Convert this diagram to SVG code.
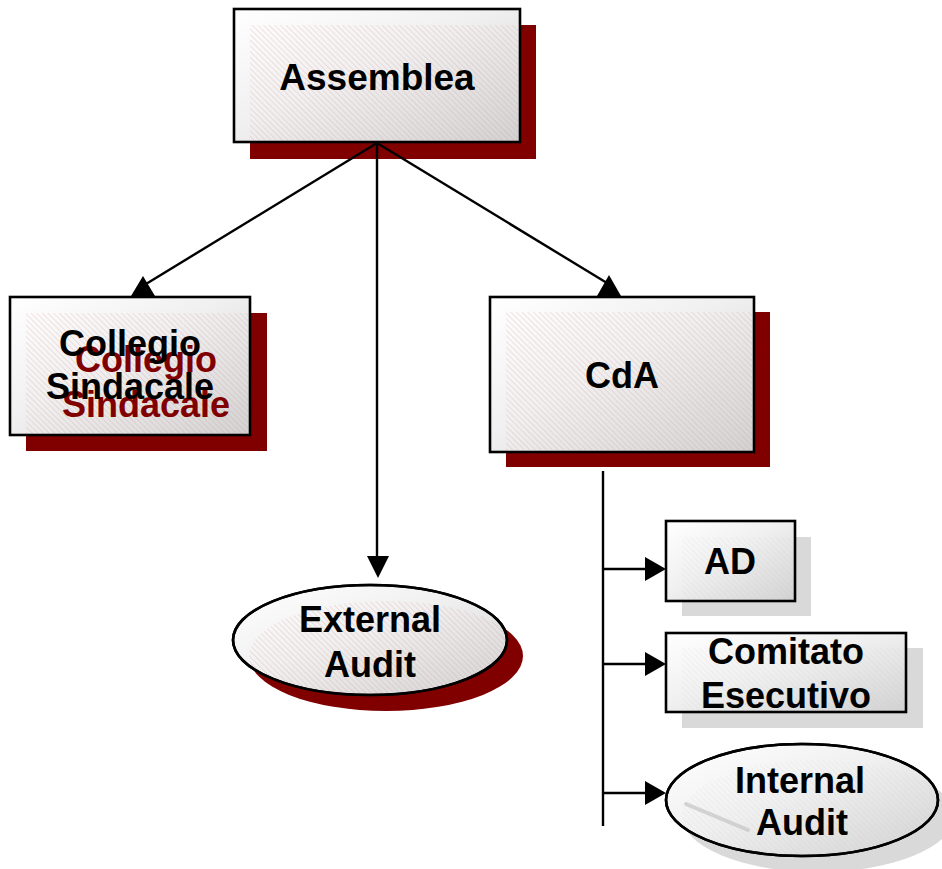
<svg xmlns="http://www.w3.org/2000/svg" width="942" height="869" viewBox="0 0 942 869">
  <style>
    .box { stroke: #000; stroke-width: 2.6; fill: url(#shade); }
    .shadow-red { fill: #800000; }
    .shadow-gray { fill: #d9d9d9; }
    .hatch-red { fill: url(#hatchRed); }
    .hatch-gray { fill: url(#hatchGray); }
    .outline { fill: none; stroke: #000; stroke-width: 2.6; }
    .shine { stroke: #c4c4c4; stroke-width: 4; stroke-opacity: 0.7; stroke-linecap: round; }
    .label { font-family: "Liberation Sans", Arial, sans-serif; font-weight: bold; font-size: 36px; text-anchor: middle; fill: #000; }
    .label-red { fill: #800000; }
    .wire { stroke: #000; stroke-width: 2.4; fill: none; }
    .head { fill: #000; }
  </style>
  <defs>
    <linearGradient id="shade" x1="0" y1="0" x2="1" y2="1">
      <stop offset="0" stop-color="#ffffff"/>
      <stop offset="0.45" stop-color="#f0f0f0"/>
      <stop offset="1" stop-color="#d2d2d2"/>
    </linearGradient>
    <pattern id="hatchRed" width="4" height="4" patternUnits="userSpaceOnUse" patternTransform="rotate(-45)">
      <line x1="0" y1="0" x2="0" y2="4" stroke="#d98c8c" stroke-width="0.8" stroke-opacity="0.6"/>
    </pattern>
    <pattern id="hatchGray" width="4" height="4" patternUnits="userSpaceOnUse" patternTransform="rotate(-45)">
      <line x1="0" y1="0" x2="0" y2="4" stroke="#b8b8b8" stroke-width="0.8" stroke-opacity="0.35"/>
    </pattern>
    <clipPath id="clipExt"><ellipse cx="370" cy="640" rx="137" ry="55"/></clipPath>
    <clipPath id="clipInt"><ellipse cx="802" cy="800" rx="136" ry="56"/></clipPath>
  </defs>

  <!-- Assemblea -->
  <g id="assemblea">
    <rect class="shadow-red" x="250" y="25" width="286" height="134"/>
    <rect class="box" x="234" y="9" width="286" height="133"/>
    <rect class="hatch-red" x="250" y="25" width="269" height="116"/>
    <text class="label" x="377" y="90" style="font-size:37px">Assemblea</text>
  </g>

  <!-- Collegio Sindacale -->
  <g id="collegio-sindacale">
    <rect class="shadow-red" x="26" y="313" width="241" height="138"/>
    <rect class="box" x="10" y="297" width="240" height="138"/>
    <rect class="hatch-red" x="26" y="313" width="223" height="121"/>
    <text class="label label-red" x="146" y="372">Collegio</text>
    <text class="label label-red" x="146" y="417">Sindacale</text>
    <text class="label" x="130" y="356">Collegio</text>
    <text class="label" x="130" y="399">Sindacale</text>
  </g>

  <!-- CdA -->
  <g id="cda">
    <rect class="shadow-red" x="506" y="312" width="264" height="155"/>
    <rect class="box" x="490" y="297" width="264" height="155"/>
    <rect class="hatch-red" x="506" y="312" width="247" height="139"/>
    <text class="label" x="622" y="388">CdA</text>
  </g>

  <!-- External Audit -->
  <g id="external-audit">
    <ellipse class="shadow-red" cx="386" cy="656" rx="137" ry="55"/>
    <ellipse class="box" cx="370" cy="640" rx="137" ry="55"/>
    <ellipse class="hatch-red" cx="386" cy="656" rx="137" ry="55" clip-path="url(#clipExt)"/>
    <ellipse class="outline" cx="370" cy="640" rx="137" ry="55"/>
    <text class="label" x="370" y="632">External</text>
    <text class="label" x="370" y="677">Audit</text>
  </g>

  <!-- AD -->
  <g id="ad">
    <rect class="shadow-gray" x="682" y="537" width="129" height="79"/>
    <rect class="box" x="666" y="521" width="129" height="80"/>
    <rect class="hatch-gray" x="682" y="537" width="112" height="63"/>
    <text class="label" x="730" y="574">AD</text>
  </g>

  <!-- Comitato Esecutivo -->
  <g id="comitato-esecutivo">
    <rect class="shadow-gray" x="682" y="648" width="241" height="80"/>
    <rect class="box" x="666" y="633" width="240" height="79"/>
    <rect class="hatch-gray" x="682" y="648" width="223" height="63"/>
    <text class="label" x="786" y="664">Comitato</text>
    <text class="label" x="786" y="708">Esecutivo</text>
  </g>

  <!-- Internal Audit -->
  <g id="internal-audit">
    <ellipse class="shadow-gray" cx="818" cy="816" rx="136" ry="56"/>
    <ellipse class="box" cx="802" cy="800" rx="136" ry="56"/>
    <ellipse class="hatch-gray" cx="818" cy="816" rx="136" ry="56" clip-path="url(#clipInt)"/>
    <line class="shine" x1="686" y1="804" x2="748" y2="830" clip-path="url(#clipInt)"/>
    <ellipse class="outline" cx="802" cy="800" rx="136" ry="56"/>
    <text class="label" x="800" y="793">Internal</text>
    <text class="label" x="802" y="835">Audit</text>
  </g>

  <!-- connectors, drawn over the node shadows -->
  <g id="connectors">
    <line class="wire" x1="377" y1="143" x2="146" y2="284"/>
    <polygon class="head" points="143,276 131,296 155,296"/>
    <line class="wire" x1="377" y1="143" x2="607" y2="283"/>
    <polygon class="head" points="609,275 597,296 621,296"/>
    <line class="wire" x1="377" y1="143" x2="377" y2="558"/>
    <polygon class="head" points="367,556 389,556 378,578"/>
    <line class="wire" x1="603" y1="471" x2="603" y2="826"/>
    <line class="wire" x1="603" y1="569" x2="648" y2="569"/>
    <polygon class="head" points="645,557 666,569 645,581"/>
    <line class="wire" x1="603" y1="664" x2="648" y2="664"/>
    <polygon class="head" points="645,652 666,664 645,676"/>
    <line class="wire" x1="603" y1="793" x2="648" y2="793"/>
    <polygon class="head" points="645,781 666,793 645,805"/>
  </g>
</svg>
